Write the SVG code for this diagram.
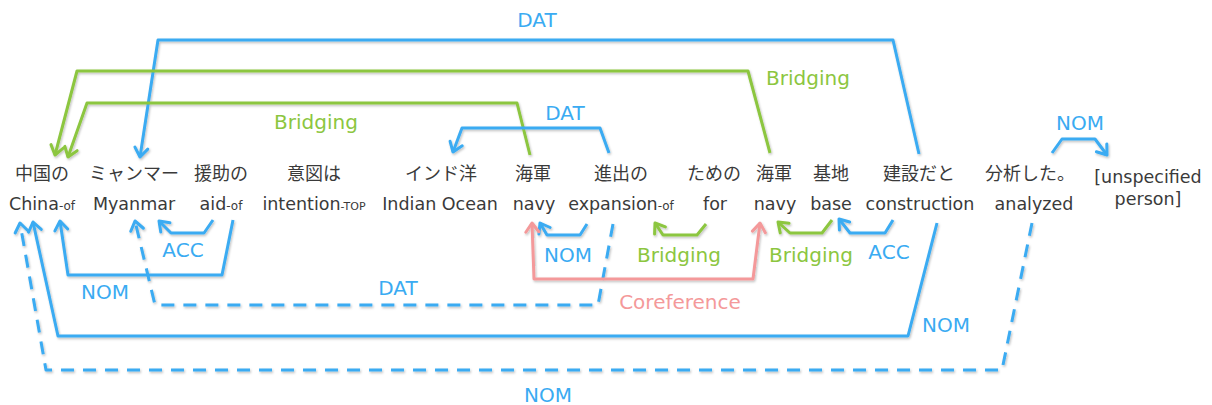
<svg xmlns="http://www.w3.org/2000/svg" width="1212" height="405" viewBox="0 0 1212 405">
<style>
.w{font-family:"DejaVu Sans","Noto Sans CJK JP",sans-serif;font-size:17.5px;fill:#3a3a3a;text-anchor:middle}
.j{font-family:"Noto Sans CJK JP","DejaVu Sans",sans-serif;font-size:18px;fill:#3a3a3a;text-anchor:middle}
.s{font-size:12px}
.t{font-size:11px}
.lb{font-family:"DejaVu Sans",sans-serif;font-size:20px;text-anchor:middle}
.b{fill:#3aabf2}.g{fill:#8cc63f}.p{fill:#f4999a}
.c{fill:none;stroke-width:3;stroke-linejoin:round}
.cb{stroke:#3aabf2;marker-end:url(#ab)}
.cg{stroke:#8cc63f;marker-end:url(#ag)}
.cp{stroke:#f4999a;marker-end:url(#ap);marker-start:url(#ap)}
.d{stroke-dasharray:13 9}
</style>
<defs>
<filter id="sh" x="-5%" y="-5%" width="110%" height="110%"><feDropShadow dx="1" dy="1.5" stdDeviation="0.8" flood-color="#000" flood-opacity="0.25"/></filter>
<marker id="ab" markerUnits="userSpaceOnUse" orient="auto-start-reverse" refX="0" refY="0" markerWidth="1" markerHeight="1" overflow="visible"><path d="M-9,-6.5 L0,0 L-9,6.5" fill="none" stroke="#3aabf2" stroke-width="3" stroke-linejoin="round" stroke-linecap="round"/></marker>
<marker id="ag" markerUnits="userSpaceOnUse" orient="auto-start-reverse" refX="0" refY="0" markerWidth="1" markerHeight="1" overflow="visible"><path d="M-9,-6.5 L0,0 L-9,6.5" fill="none" stroke="#8cc63f" stroke-width="3" stroke-linejoin="round" stroke-linecap="round"/></marker>
<marker id="ap" markerUnits="userSpaceOnUse" orient="auto-start-reverse" refX="0" refY="0" markerWidth="1" markerHeight="1" overflow="visible"><path d="M-9,-6.5 L0,0 L-9,6.5" fill="none" stroke="#f4999a" stroke-width="3" stroke-linejoin="round" stroke-linecap="round"/></marker>
</defs>
<rect width="1212" height="405" fill="#fff"/>
<g id="connectors" filter="url(#sh)">
<path class="c cb" d="M919,154 L893,40 L158,40 L140,157"/>
<path class="c cg" d="M770,153 L748,71 L77,71 L55,155"/>
<path class="c cg" d="M530,155 L517,103 L87,103 L68,157"/>
<path class="c cb" d="M609,153 L600,128 L462,128 L453,152"/>
<path class="c cb" d="M1052,153 L1062,139 L1095,139 L1107,155"/>
<path class="c cb" d="M213,220 L204,233 L171,233 L159,221"/>
<path class="c cb" d="M233,220 L222,275 L68,275 L60,221"/>
<path class="c cb d" d="M613,224 L598,305 L155,305 L135,221"/>
<path class="c cb" d="M937,223 L908,336 L58,336 L33,222"/>
<path class="c cb d" d="M1032,223 L1002,370 L46,370 L20,223"/>
<path class="c cb" d="M587,224 L580,235 L547,235 L540,223"/>
<path class="c cg" d="M706,224 L697,235 L663,235 L655,223"/>
<path class="c cp" d="M532,223 L534,279 L753,279 L760,223"/>
<path class="c cg" d="M832,220 L822,233 L790,233 L778,222"/>
<path class="c cb" d="M893,220 L885,233 L850,233 L839,219"/>
</g>
<g id="edge-labels">
<text class="lb b" x="537" y="27">DAT</text>
<text class="lb g" x="808" y="85">Bridging</text>
<text class="lb g" x="316" y="129">Bridging</text>
<text class="lb b" x="565" y="120">DAT</text>
<text class="lb b" x="1080" y="130">NOM</text>
<text class="lb b" x="183" y="257">ACC</text>
<text class="lb b" x="105" y="299">NOM</text>
<text class="lb b" x="398" y="295">DAT</text>
<text class="lb b" x="568" y="262">NOM</text>
<text class="lb g" x="679" y="262">Bridging</text>
<text class="lb g" x="811" y="262">Bridging</text>
<text class="lb b" x="889" y="259">ACC</text>
<text class="lb p" x="680" y="309">Coreference</text>
<text class="lb b" x="946" y="332">NOM</text>
<text class="lb b" x="548" y="402">NOM</text>
</g>
<g id="n1"><text class="j" x="42" y="180">中国の</text><text class="w" x="42" y="210">China<tspan class="s">-of</tspan></text></g>
<g id="n2"><text class="j" x="134" y="180">ミャンマー</text><text class="w" x="134" y="210">Myanmar</text></g>
<g id="n3"><text class="j" x="221" y="180">援助の</text><text class="w" x="221" y="210">aid<tspan class="s">-of</tspan></text></g>
<g id="n4"><text class="j" x="314" y="180">意図は</text><text class="w" x="314" y="210">intention<tspan class="t">-TOP</tspan></text></g>
<g id="n5"><text class="j" x="441" y="180">インド洋</text><text class="w" x="440" y="210">Indian Ocean</text></g>
<g id="n6"><text class="j" x="533" y="180">海軍</text><text class="w" x="534" y="210">navy</text></g>
<g id="n7"><text class="j" x="621" y="180">進出の</text><text class="w" x="621" y="210">expansion<tspan class="s">-of</tspan></text></g>
<g id="n8"><text class="j" x="714" y="180">ための</text><text class="w" x="715" y="210">for</text></g>
<g id="n9"><text class="j" x="774" y="180">海軍</text><text class="w" x="775" y="210">navy</text></g>
<g id="n10"><text class="j" x="831" y="180">基地</text><text class="w" x="831" y="210">base</text></g>
<g id="n11"><text class="j" x="919" y="180">建設だと</text><text class="w" x="920" y="210">construction</text></g>
<g id="n12"><text class="j" x="1030" y="180">分析した。</text><text class="w" x="1034" y="210">analyzed</text></g>
<g id="n13"><text class="w" x="1148" y="183">[unspecified</text><text class="w" x="1148" y="205">person]</text></g>
</svg>
